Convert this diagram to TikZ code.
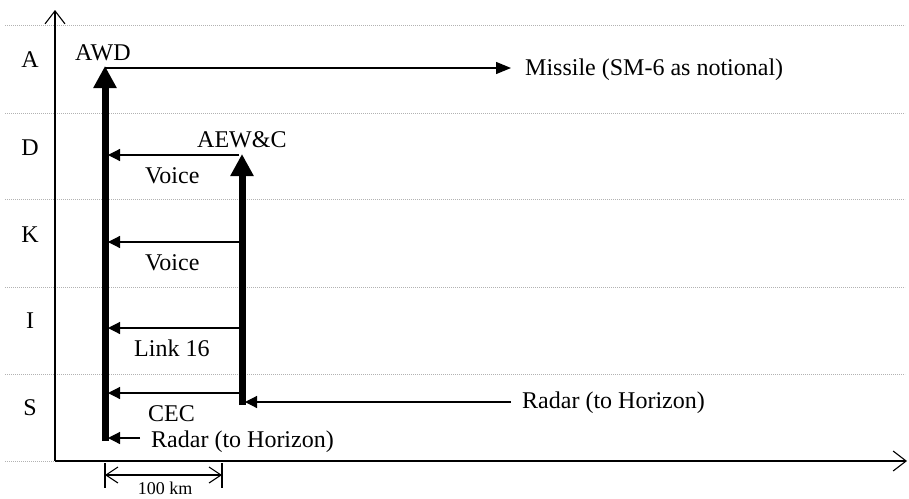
\documentclass[tikz,border=0pt]{standalone}
\usepackage{fontspec}
\setmainfont{Liberation Serif}
\usetikzlibrary{arrows.meta}
\begin{document}
\begin{tikzpicture}[x=1pt,y=-1pt,
  lbl/.style={anchor=base west,inner sep=0pt,font=\fontsize{24}{28}\selectfont},
  lvl/.style={anchor=base,inner sep=0pt,font=\fontsize{24}{28}\selectfont},
  grid/.style={gray!60,line width=0.7pt,dash pattern=on 0.8pt off 1.2pt},
  axis/.style={line width=1.1pt,-{Straight Barb[length=13pt,width=20pt,line width=1.1pt]}},
  thick/.style={line width=7pt,-{Triangle[length=22pt,width=22pt]}},
  msg/.style={line width=1.2pt,-{Triangle[length=12pt,width=12pt]}},
  dim/.style={line width=1.1pt,{Straight Barb[length=12pt,width=16pt,line width=1.1pt]}-{Straight Barb[length=12pt,width=16pt,line width=1.1pt]}}]
\useasboundingbox (0,0) rectangle (909,498);
% grid lines
\foreach \yy in {25,113,199,287,374,461}
  \draw[grid] (5,\yy) -- (905,\yy);
% axes
\coordinate (o) at (55,461);
\coordinate (ytop) at (55,10);
\coordinate (xend) at (907,461);
\draw[axis] (o) -- (ytop);
\draw[axis] (o) -- (xend);
% level letters
\node[lvl] (la) at (30,67) {A};
\node[lvl] (ld) at (30,155) {D};
\node[lvl] (lk) at (30,242) {K};
\node[lvl] (li) at (30,328) {I};
\node[lvl] (ls) at (30,415) {S};
% platforms
\coordinate (awdb) at (105,441);
\coordinate (awdt) at (105,66);
\coordinate (aewb) at (242,405);
\coordinate (aewt) at (242,154);
\draw[thick] (awdb) -- (awdt);
\draw[thick] (aewb) -- (aewt);
\node[lbl] (awd) at (75,60) {AWD};
\node[lbl] (aew) at (197,147) {AEW\&C};
% missile
\coordinate (ms) at (105,68);
\coordinate (me) at (511,68);
\draw[line width=1.2pt,-{Triangle[length=15pt,width=12pt]}] (ms) -- (me);
\node[lbl] (mis) at (525,75) {Missile (SM-6 as notional)};
% messages
\foreach \yy/\nm in {155/v1,242/v2,328/l16,393/cec}{
  \coordinate (\nm s) at (239,\yy);
  \coordinate (\nm e) at (108,\yy);
  \draw[msg] (\nm s) -- (\nm e);
}
\node[lbl] (tv1) at (145,183) {Voice};
\node[lbl] (tv2) at (145,270) {Voice};
\node[lbl] (tl16) at (134,356) {Link 16};
\node[lbl] (tcec) at (148,421) {CEC};
% radars
\coordinate (r1s) at (140,438);
\coordinate (r1e) at (108,438);
\draw[msg] (r1s) -- (r1e);
\node[lbl] (rad1) at (151,447) {Radar (to Horizon)};
\coordinate (r2s) at (511,402);
\coordinate (r2e) at (245,402);
\draw[msg] (r2s) -- (r2e);
\node[lbl] (rad2) at (522,408) {Radar (to Horizon)};
% scale
\coordinate (t1a) at (105,463);
\coordinate (t1b) at (105,488);
\coordinate (t2a) at (222,463);
\coordinate (t2b) at (222,488);
\draw[line width=1.1pt] (t1a) -- (t1b);
\draw[line width=1.1pt] (t2a) -- (t2b);
\coordinate (da) at (105,475);
\coordinate (db) at (222,475);
\draw[dim] (da) -- (db);
\node[anchor=base,inner sep=0pt,font=\fontsize{18}{21}\selectfont] (km) at (165,494) {100 km};
\end{tikzpicture}
\end{document}
